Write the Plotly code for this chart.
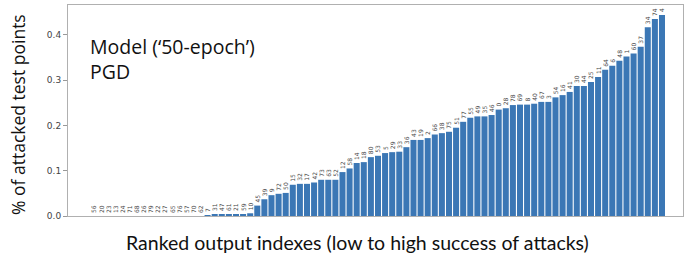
import plotly.graph_objects as go

# Output indexes ranked from low to high attack success
labels = [56, 20, 23, 13, 24, 71, 68, 26, 79, 22, 27, 65, 76, 57, 70, 62,
          7, 31, 47, 61, 21, 59, 10,
          45, 39, 9, 72, 50, 15, 32, 17, 42, 73, 63, 52, 12, 58, 14, 18,
          80, 53, 5, 29, 33, 36, 43, 19, 2, 66, 38, 75, 51, 77, 55, 49,
          35, 46, 0, 28, 78, 69, 8, 40, 67, 3, 54, 16, 41, 30, 44, 25,
          11, 64, 6, 48, 1, 60, 37, 34, 74, 4]

values = [0.0] * 16 + [
    0.001, 0.003, 0.003, 0.003, 0.003, 0.004, 0.006,
    0.023, 0.037, 0.046, 0.049, 0.051, 0.069, 0.071, 0.071, 0.074,
    0.080, 0.080, 0.080, 0.097, 0.105, 0.117, 0.119,
    0.130, 0.133, 0.139, 0.141, 0.142, 0.152, 0.168, 0.168, 0.172,
    0.180, 0.183, 0.186, 0.195, 0.208, 0.217, 0.220,
    0.220, 0.223, 0.235, 0.238, 0.245, 0.246, 0.246, 0.248, 0.252,
    0.252, 0.262, 0.267, 0.274, 0.287, 0.287, 0.296,
    0.307, 0.323, 0.332, 0.343, 0.352, 0.359, 0.374, 0.417, 0.435, 0.444]

yticks = [0.0, 0.1, 0.2, 0.3, 0.4]
ytick_text = ["0.0", "0.1", "0.2", "0.3", "0.4"]

ranks = list(range(len(values)))

fig = go.Figure(go.Bar(
    x=ranks, y=values,
    text=[str(l) for l in labels],
    textposition="outside", textangle=-90,
    cliponaxis=False,
    textfont=dict(size=6, color="#444444", family="DejaVu Sans"),
    marker=dict(color="#3b77b5", line=dict(width=0)),
))

fig.update_layout(
    width=686, height=258,
    margin=dict(l=68, r=3, t=5, b=42, autoexpand=False),
    paper_bgcolor="white", plot_bgcolor="white",
    bargap=0.15,
    showlegend=False,
    uniformtext=dict(minsize=5, mode="show"),
    xaxis=dict(range=[-3.66, 82.96], showticklabels=False, ticks="",
               showgrid=False, zeroline=False,
               showline=True, linecolor="#b0b0b0", linewidth=1, mirror=True),
    yaxis=dict(range=[0, 0.466], tickvals=yticks, ticktext=ytick_text,
               ticks="outside", ticklen=4, tickcolor="#999999",
               tickfont=dict(size=9, color="#444444", family="DejaVu Sans"),
               showgrid=False, zeroline=False,
               showline=True, linecolor="#b0b0b0", linewidth=1, mirror=True),
    font=dict(family="Lato"),
    annotations=[
        dict(text="Model (‘50-epoch’)<br>PGD", x=(88 - 68) / 615, y=(211 - 26) / 211,
             xref="paper", yref="paper",
             showarrow=False, xanchor="left", yanchor="top", align="left",
             font=dict(size=19.5, color="#111111", family="Open Sans")),
        dict(text="Ranked output indexes (low to high success of attacks)",
             x=(357 - 68) / 615, y=-(229 - 216) / 211, xref="paper", yref="paper",
             showarrow=False, xanchor="center", yanchor="top",
             font=dict(size=19.5, color="#111111", family="Lato")),
        dict(text="% of attacked test points", textangle=-90,
             x=-(68 - 18) / 615, y=(216 - 115) / 211, xref="paper", yref="paper",
             showarrow=False, xanchor="center", yanchor="middle",
             font=dict(size=17.5, color="#111111", family="Open Sans")),
    ],
)

fig.write_html("out.html", config={"displayModeBar": False},
               post_script="document.body.style.margin='0';document.body.style.overflow='hidden';")
